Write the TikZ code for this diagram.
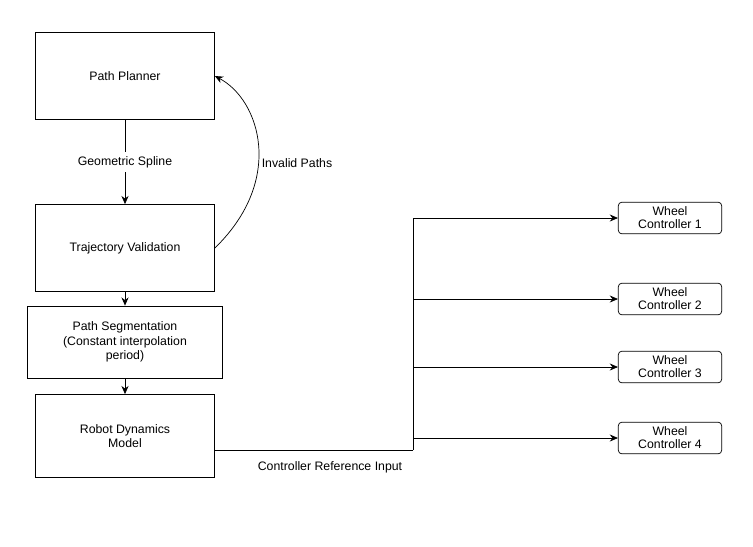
\documentclass[tikz,border=0pt]{standalone}
\usepackage{fontspec}
\setmainfont{Liberation Sans}
\usetikzlibrary{arrows.meta}
\tikzset{block/.style={draw,align=center,font=\fontsize{10.5}{12.5}\selectfont},
         wheel/.style={draw,rounded corners=3pt,align=center,minimum width=3.1cm,minimum height=0.95cm,inner sep=1pt,font=\fontsize{10.5}{11}\selectfont},
         line/.style={draw,-{Stealth[length=7pt,width=6pt]}},
         lbl/.style={font=\fontsize{10.5}{12.5}\selectfont}}
\begin{document}
\begin{tikzpicture}[x=0.03cm,y=-0.03cm,line width=0.6pt]
    \useasboundingbox (0,0) rectangle (753,546);

        \node[block,minimum width=5.37cm,minimum height=2.61cm] (PP) at (125,76) {Path Planner};
        \node[block,minimum width=5.37cm,minimum height=2.61cm] (TV) at (125,248) {Trajectory Validation};
        \node[block,minimum width=5.85cm,minimum height=2.16cm] (PS) at (125,342) {Path Segmentation\\(Constant interpolation\\period)};
        \node[block,minimum width=5.37cm,minimum height=2.49cm] (RD) at (125,436) {Robot Dynamics\\Model};

        \node[wheel] (W1) at (670,218) {Wheel\\Controller 1};
        \node[wheel] (W2) at (670,299) {Wheel\\Controller 2};
        \node[wheel] (W3) at (670,367) {Wheel\\Controller 3};
        \node[wheel] (W4) at (670,438) {Wheel\\Controller 4};

        \coordinate (split) at (413,450);

    \path[line] (PP) -- node[lbl,fill=white] {Geometric Spline} (TV);
    \path[line] (TV.east) .. controls (285,180) and (260,100) .. (PP.east);
    \node[lbl] (inv) at (297,163) {Invalid Paths};
    \path[line] (TV) -- (PS);
    \path[line] (PS) -- (RD);
    \draw (RD.east |- split) -- (split);
    \node[lbl] (cri) at (330,467) {Controller Reference Input};
    \path[line] (split) |- (W1.west);
    \path[line] (split |- W2.west) -- (W2.west);
    \path[line] (split |- W3.west) -- (W3.west);
    \path[line] (split |- W4.west) -- (W4.west);

\end{tikzpicture}
\end{document}
